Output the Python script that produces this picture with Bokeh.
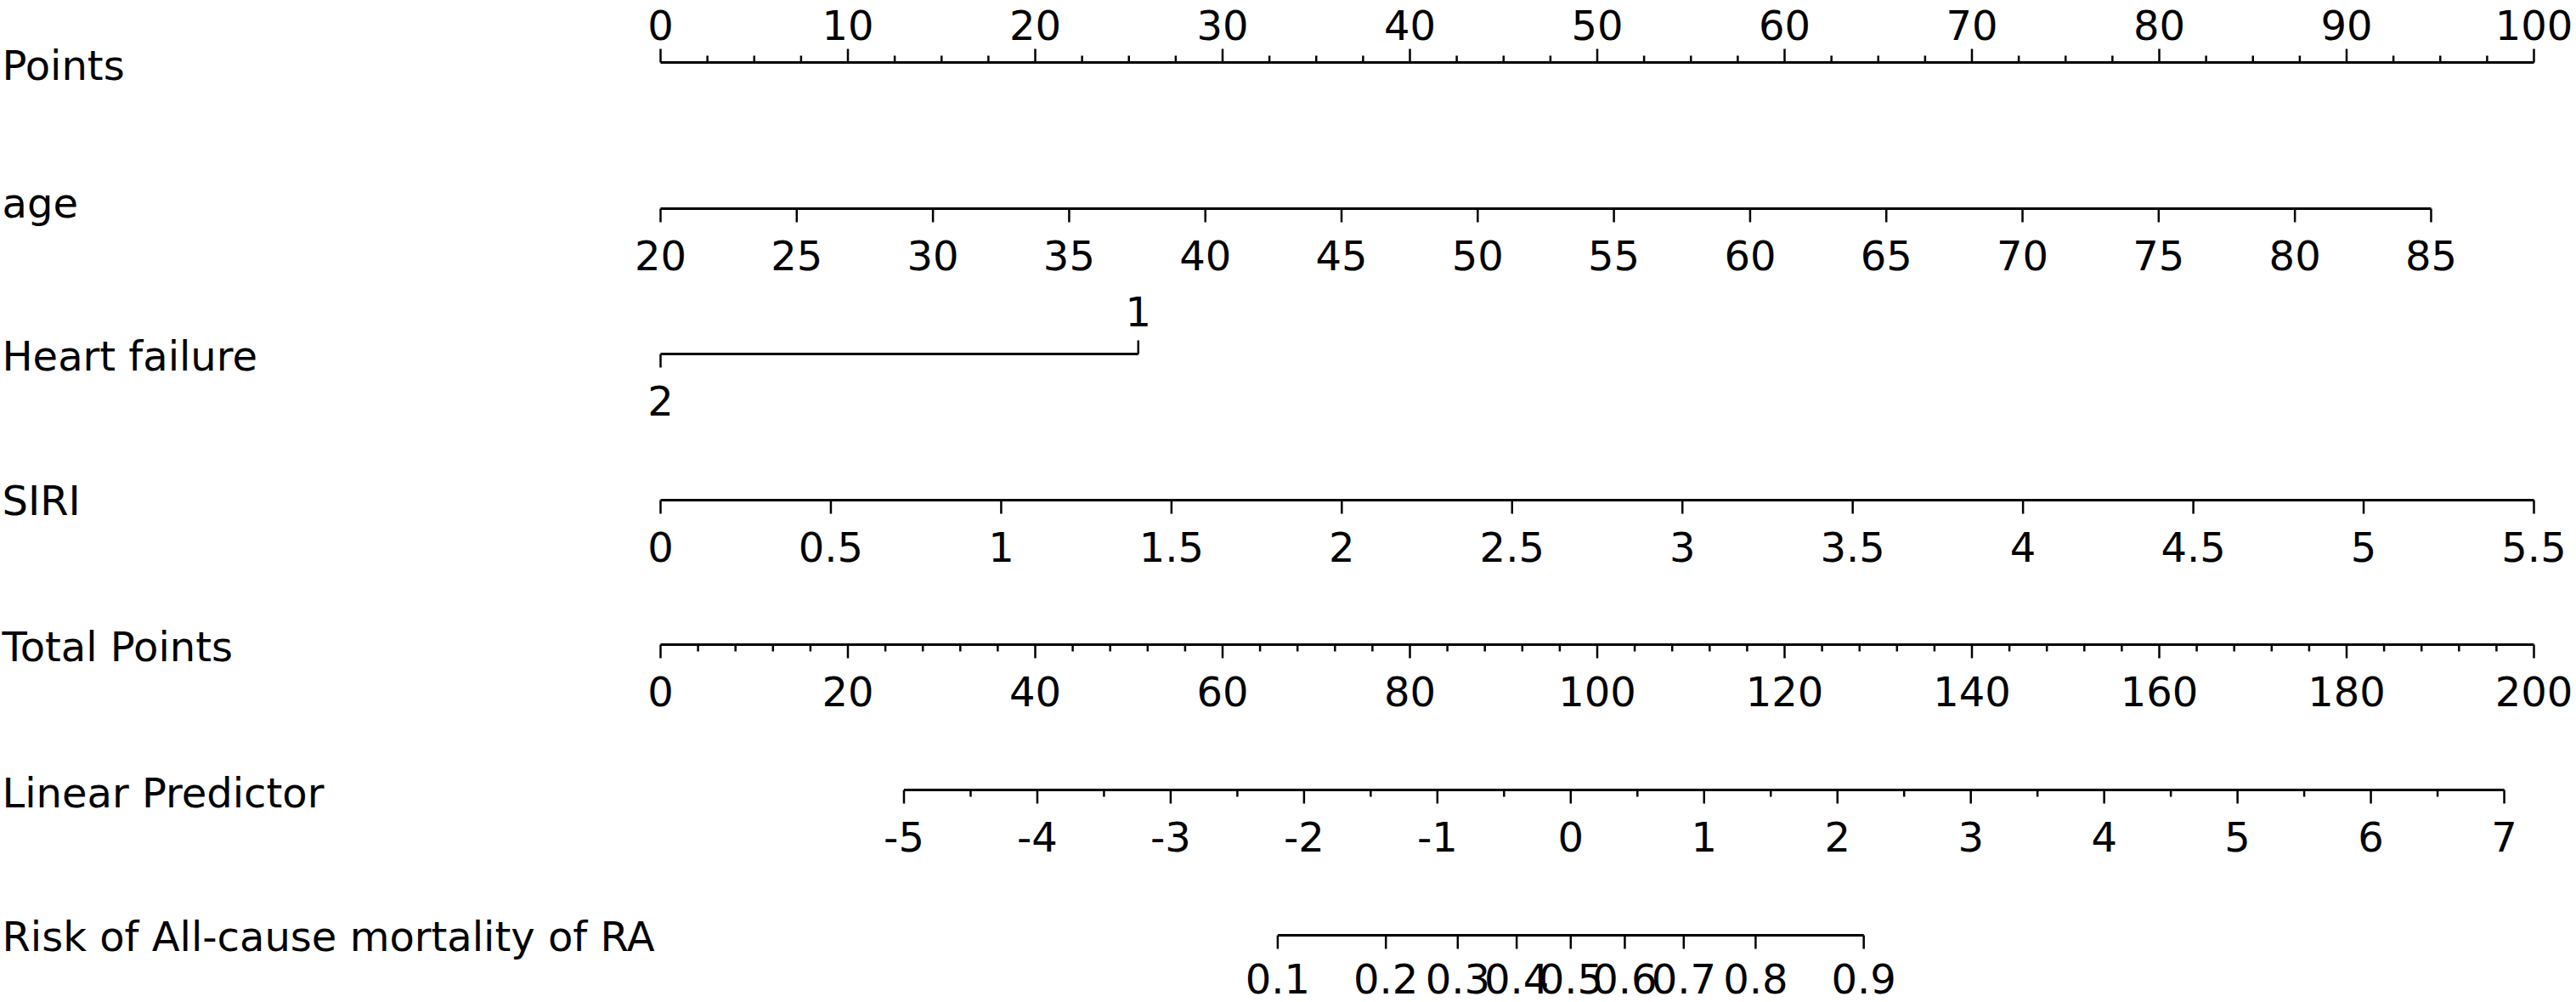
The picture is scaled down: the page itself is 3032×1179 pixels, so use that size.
import numpy as np
from bokeh.plotting import figure
from bokeh.models import Range1d
from bokeh.core.properties import value
from bokeh.embed import file_html
from bokeh.resources import INLINE

# ---------------- data ----------------
row_names = ["Points", "age", "Heart failure", "SIRI", "Total Points",
             "Linear Predictor", "Risk of All-cause mortality of RA"]

points_major = [0, 10, 20, 30, 40, 50, 60, 70, 80, 90, 100]
points_minor_step = 2.5

age_values = [20, 25, 30, 35, 40, 45, 50, 55, 60, 65, 70, 75, 80, 85]
age_pts_per_year = 1.454          # 85 years -> ~94.5 points

hf_labels = ["1", "2"]
hf_points = [25.5, 0.0]

siri_values = [0, 0.5, 1, 1.5, 2, 2.5, 3, 3.5, 4, 4.5, 5, 5.5]
siri_labels = ["0", "0.5", "1", "1.5", "2", "2.5", "3", "3.5", "4", "4.5", "5", "5.5"]
siri_pts_per_unit = 100 / 5.5

total_major = [0, 20, 40, 60, 80, 100, 120, 140, 160, 180, 200]
total_minor_step = 4

lp_values = [-5, -4, -3, -2, -1, 0, 1, 2, 3, 4, 5, 6, 7]
lp_minor_step = 0.5
lp_tp_at_zero = 97.17             # total points where linear predictor = 0
lp_tp_per_unit = 14.237           # total points per unit of linear predictor

risk_values = [0.1, 0.2, 0.3, 0.4, 0.5, 0.6, 0.7, 0.8, 0.9]

# ---------------- layout ----------------
W, H = 3032, 1179
PX_PER_PT = 22.05
X0_PX = 777
row_line_y = [73, 245, 416, 588, 758, 929, 1100]     # px from top
row_label_dy = [18, 8, 17, 15, 17, 18, 16]
FONT = value("DejaVu Sans")
FS = "48px"
MAJ, MIN = 16, 8
AX_W, TK_W = 3, 2.5
TXT_FIX = -15                     # renderer baseline correction
ABOVE_DY, BELOW_DY = 35, 70

p = figure(width=W, height=H, output_backend="svg", toolbar_location=None,
           x_range=Range1d(-X0_PX / PX_PER_PT, (W - X0_PX) / PX_PER_PT),
           y_range=Range1d(H, 0), x_axis_type=None, y_axis_type=None,
           min_border=0)
p.grid.visible = False
p.outline_line_color = None
p.background_fill_color = "white"
p.border_fill_color = "white"


def tp_to_x(tp):
    return np.asarray(tp, dtype=float) / 2.0


def put_text(xs, ys, labels, align="center"):
    p.text(x=list(xs), y=[v + TXT_FIX for v in ys], text=labels, text_font=FONT,
           text_font_size=FS, text_align=align, text_baseline="alphabetic",
           text_color="black")


def draw_axis(y, xs, labels, side, minor_xs=None, label_dy=None):
    xs = np.asarray(xs, dtype=float)
    lo, hi = xs.min(), xs.max()
    p.segment(x0=[lo], y0=[y], x1=[hi], y1=[y], line_color="black", line_width=AX_W)
    sgn = -1 if side == "up" else 1
    p.segment(x0=xs, y0=[y] * len(xs), x1=xs, y1=[y + sgn * MAJ] * len(xs),
              line_color="black", line_width=TK_W)
    if minor_xs is not None and len(minor_xs):
        mx = np.asarray(minor_xs, dtype=float)
        p.segment(x0=mx, y0=[y] * len(mx), x1=mx, y1=[y + sgn * MIN] * len(mx),
                  line_color="black", line_width=TK_W)
    if label_dy is None:
        label_dy = -ABOVE_DY if side == "up" else BELOW_DY
    put_text(xs, [y + label_dy] * len(xs), labels)


# Points
pm = np.asarray(points_major, dtype=float)
p_minor = [v for v in np.arange(pm.min(), pm.max() + 1e-9, points_minor_step) if v not in points_major]
draw_axis(row_line_y[0], pm, [str(v) for v in points_major], "up", p_minor, label_dy=-29)

# age
age_x = (np.asarray(age_values) - age_values[0]) * age_pts_per_year
draw_axis(row_line_y[1], age_x, [str(v) for v in age_values], "down")

# Heart failure
y = row_line_y[2]
p.segment(x0=[min(hf_points)], y0=[y], x1=[max(hf_points)], y1=[y], line_color="black", line_width=AX_W)
p.segment(x0=[hf_points[0]], y0=[y], x1=[hf_points[0]], y1=[y - MAJ], line_color="black", line_width=TK_W)
p.segment(x0=[hf_points[1]], y0=[y], x1=[hf_points[1]], y1=[y + MAJ], line_color="black", line_width=TK_W)
put_text([hf_points[0]], [y - ABOVE_DY], [hf_labels[0]])
put_text([hf_points[1]], [y + BELOW_DY], [hf_labels[1]])

# SIRI
siri_x = np.asarray(siri_values) * siri_pts_per_unit
draw_axis(row_line_y[3], siri_x, siri_labels, "down")

# Total Points
tm = np.asarray(total_major, dtype=float)
t_minor = [v for v in np.arange(tm.min(), tm.max() + 1e-9, total_minor_step) if v not in total_major]
draw_axis(row_line_y[4], tp_to_x(tm), [str(v) for v in total_major], "down", tp_to_x(t_minor))

# Linear Predictor
lv = np.asarray(lp_values, dtype=float)
lp_x = tp_to_x(lp_tp_at_zero + lp_tp_per_unit * lv)
l_minor = [v for v in np.arange(lv.min(), lv.max() + 1e-9, lp_minor_step) if v not in lp_values]
l_minor_x = tp_to_x(lp_tp_at_zero + lp_tp_per_unit * np.asarray(l_minor))
draw_axis(row_line_y[5], lp_x, [str(v) for v in lp_values], "down", l_minor_x)

# Risk
rv = np.asarray(risk_values)
risk_lp = np.log(rv / (1 - rv))
risk_x = tp_to_x(lp_tp_at_zero + lp_tp_per_unit * risk_lp)
draw_axis(row_line_y[6], risk_x, [str(v) for v in risk_values], "down", label_dy=66)

# Row titles
x_left = (2 - X0_PX) / PX_PER_PT
put_text([x_left] * len(row_names), [a + b for a, b in zip(row_line_y, row_label_dy)],
         row_names, align="left")

open("out.html", "w").write(file_html(p, INLINE))
